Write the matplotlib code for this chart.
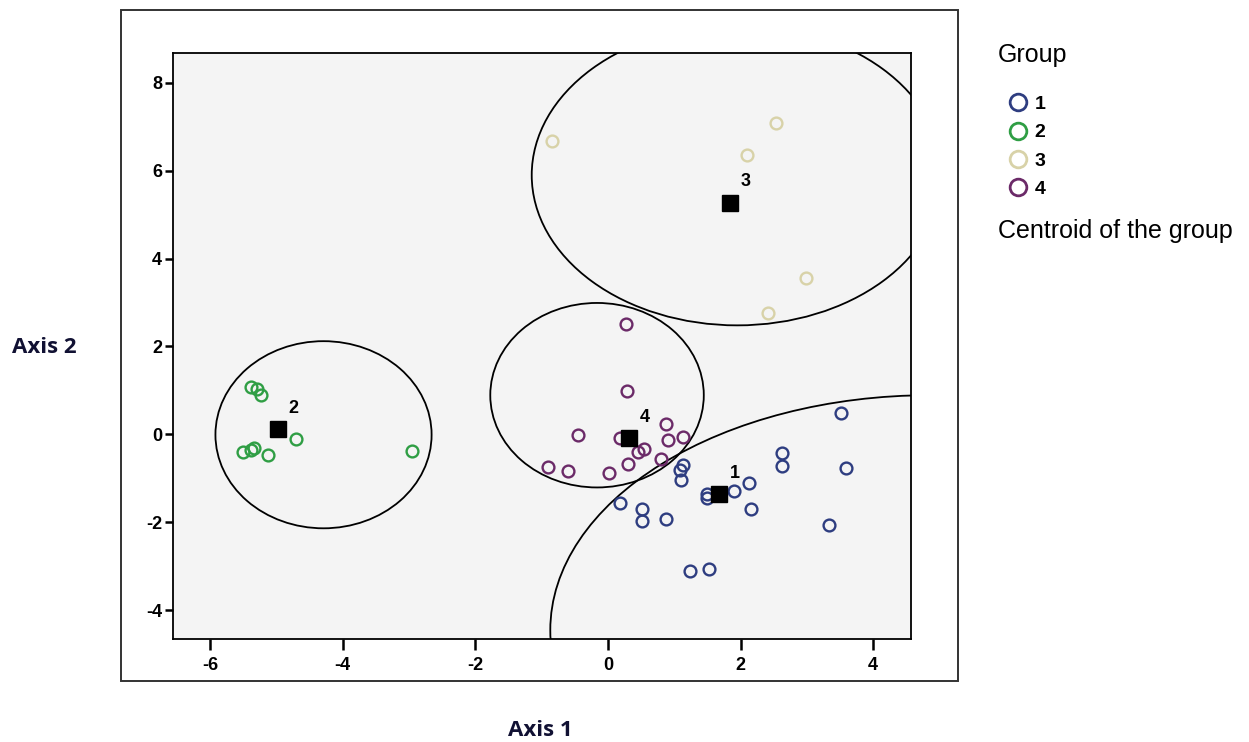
import matplotlib
matplotlib.use('Agg')
import matplotlib.pyplot as plt
from matplotlib.patches import Ellipse, Rectangle
from matplotlib.lines import Line2D

plt.rcParams['axes.unicode_minus'] = False

# Группы: координаты по двум дискриминантным осям
g1_x = [3.52, 2.62, 2.62, 3.59, 1.13, 1.08, 1.10, 2.12, 1.90, 1.50, 1.50, 0.18,
        2.16, 0.52, 0.52, 0.87, 3.33, 1.24, 1.53]
g1_y = [0.49, -0.43, -0.73, -0.77, -0.71, -0.82, -1.03, -1.12, -1.29, -1.37, -1.46, -1.56,
        -1.71, -1.71, -1.97, -1.92, -2.07, -3.12, -3.06]
g2_x = [-5.38, -5.30, -5.24, -5.51, -5.39, -5.34, -5.12, -4.70, -2.95]
g2_y = [1.08, 1.02, 0.89, -0.40, -0.35, -0.31, -0.46, -0.11, -0.38]
g3_x = [-0.84, 2.53, 2.09, 2.99, 2.41]
g3_y = [6.68, 7.08, 6.36, 3.55, 2.75]
g4_x = [0.27, 0.28, -0.45, 0.18, 0.87, 0.90, 1.13, 0.55, 0.46, 0.30, 0.80, -0.91, -0.60, 0.01]
g4_y = [2.51, 0.99, -0.02, -0.08, 0.24, -0.14, -0.06, -0.33, -0.41, -0.68, -0.57, -0.74, -0.84, -0.87]

# Центроиды групп
cent_labels = ['1', '2', '3', '4']
cent_x = [1.67, -4.98, 1.84, 0.32]
cent_y = [-1.37, 0.11, 5.27, -0.08]

# Эллипсы (центр x, центр y, ширина, высота)
ell_cx = [4.86, -4.29, 1.95, -0.165]
ell_cy = [-4.46, -0.01, 5.90, 0.89]
ell_w = [11.46, 3.26, 6.20, 3.22]
ell_h = [10.70, 4.26, 6.84, 4.20]

colors = ['#2e3d80', '#2f9e44', '#d8d2a8', '#6b2a68']

fig = plt.figure(figsize=(12.49, 7.42), dpi=100)
ax = fig.add_axes([173 / 1249, 1 - 639 / 742, (911 - 173) / 1249, (639 - 53) / 742])
ax.set_facecolor('#f4f4f4')

for cx, cy, w, h in zip(ell_cx, ell_cy, ell_w, ell_h):
    ax.add_patch(Ellipse((cx, cy), w, h, fill=False, edgecolor='black', lw=1.3, zorder=2))

groups = [(g1_x, g1_y), (g2_x, g2_y), (g3_x, g3_y), (g4_x, g4_y)]
for (gx, gy), c in zip(groups, colors):
    ax.plot(gx, gy, 'o', mfc='none', mec=c, ms=8.5, mew=1.7, ls='none', zorder=3)

ax.plot(cent_x, cent_y, 's', color='black', ms=11, ls='none', zorder=4)
for lab, cx, cy in zip(cent_labels, cent_x, cent_y):
    ax.text(cx + 0.24, cy + 0.28, lab, fontsize=13, fontweight='bold', family='Liberation Sans',
            ha='center', va='bottom', zorder=5)

ax.set_xlim(-6.56, 4.57)
ax.set_ylim(-4.66, 8.68)
ax.set_xticks([-6, -4, -2, 0, 2, 4])
ax.set_yticks([-4, -2, 0, 2, 4, 6, 8])
ax.set_xticklabels([str(v) for v in [-6, -4, -2, 0, 2, 4]], fontsize=13, fontweight='bold',
                   family='Liberation Sans')
ax.set_yticklabels([str(v) for v in [-4, -2, 0, 2, 4, 6, 8]], fontsize=13, fontweight='bold',
                   family='Liberation Sans')
ax.tick_params(axis='x', length=8, width=1.8, pad=5)
ax.tick_params(axis='y', length=6, width=1.8, pad=2)
for s in ax.spines.values():
    s.set_linewidth(1.3)

# Внешняя рамка
fig.add_artist(Rectangle((121 / 1249, 1 - 681 / 742), (958 - 121) / 1249, (681 - 10) / 742,
                         transform=fig.transFigure, fill=False, edgecolor='#333333', lw=1.4))

fig.text(44 / 1249, 1 - 348 / 742, 'Axis 2', fontsize=16, fontweight='bold', family='Open Sans',
         color='#111133', ha='center', va='center')
fig.text(540 / 1249, 1 - 731 / 742, 'Axis 1', fontsize=16, fontweight='bold', family='Open Sans',
         color='#111133', ha='center', va='center')

# Легенда
fig.text(998 / 1249, 1 - 55 / 742, 'Group', fontsize=18, family='Liberation Sans', ha='left', va='center')
handles = [Line2D([], [], marker='o', mfc='none', mec=c, ms=12, mew=2, ls='none') for c in colors]
leg = fig.legend(handles, cent_labels, loc='upper left', bbox_to_anchor=(989 / 1249, 1 - 78 / 742),
                 frameon=False, handletextpad=0.25, labelspacing=0.55, handlelength=1.2,
                 prop={'weight': 'bold', 'size': 14, 'family': 'Liberation Sans'})
fig.text(998 / 1249, 1 - 231 / 742, 'Centroid of the group', fontsize=18, family='Liberation Sans',
         ha='left', va='center')

fig.savefig('out.png', dpi=100)
